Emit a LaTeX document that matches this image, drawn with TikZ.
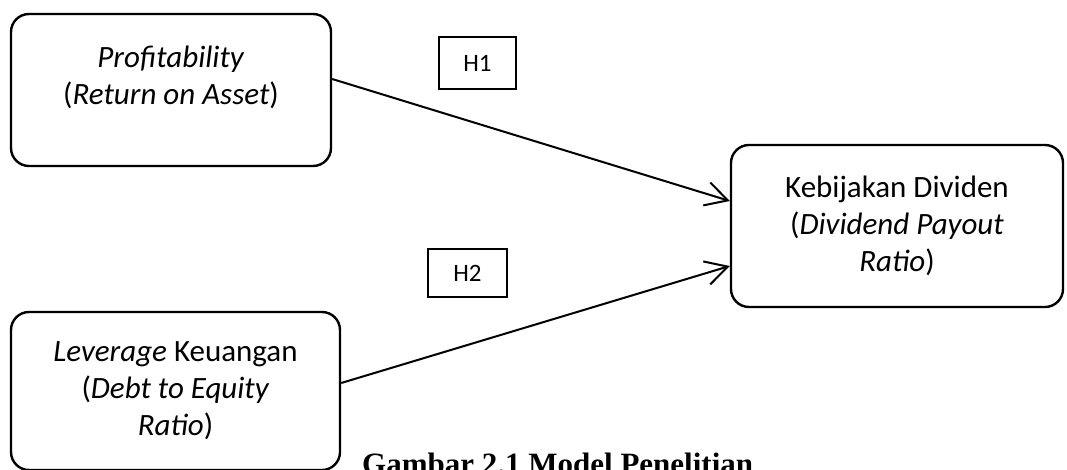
\documentclass[tikz,border=0pt]{standalone}
\usepackage{fontspec}
\setmainfont{Carlito}
\newfontfamily\timesfont{Liberation Serif}
\usetikzlibrary{arrows.meta}
\begin{document}
\begin{tikzpicture}[
    x=1pt, y=-1pt,
    varbox/.style={rectangle,rounded corners=18pt,draw=black,line width=2.4pt,align=center,font=\fontsize{31}{37}\selectfont},
    vartext/.style={align=center,font=\fontsize{31}{37}\selectfont},
    hypo/.style={rectangle,draw=black,line width=1.6pt,font=\fontsize{25}{30}\selectfont},
    conn/.style={-{Straight Barb[length=22pt,width=24pt]},line width=2pt},
    figcap/.style={font=\timesfont\bfseries\fontsize{31}{37}\selectfont,inner sep=0pt}]
    \useasboundingbox (0,0) rectangle (1067,469);
    \node[varbox, minimum width=320pt, minimum height=152pt] (roa) at (171,90) {};
    \node[vartext] (roatext) at (171,77) {\textit{Profitability}\\(\textit{Return on Asset})};
    \node[varbox, minimum width=329pt, minimum height=158pt] (der) at (175.5,391) {\textit{Leverage} Keuangan\\(\textit{Debt to Equity}\\\textit{Ratio})};
    \node[varbox, minimum width=332pt, minimum height=162pt] (dpr) at (897,226) {Kebijakan Dividen\\(\textit{Dividend Payout}\\\textit{Ratio})};
    \node[hypo, minimum width=77pt, minimum height=52pt] (h1) at (477.5,63) {H1};
    \node[hypo, minimum width=79pt, minimum height=48pt] (h2) at (467.5,273) {H2};
    \node[figcap, anchor=base west] (cap) at (362,474) {Gambar 2.1 Model Penelitian};
    \draw[conn] ([yshift=11pt]roa.east) -- ([yshift=25pt]dpr.west);
    \draw[conn] ([yshift=8pt]der.east) -- ([yshift=-40pt]dpr.west);
\end{tikzpicture}
\end{document}
